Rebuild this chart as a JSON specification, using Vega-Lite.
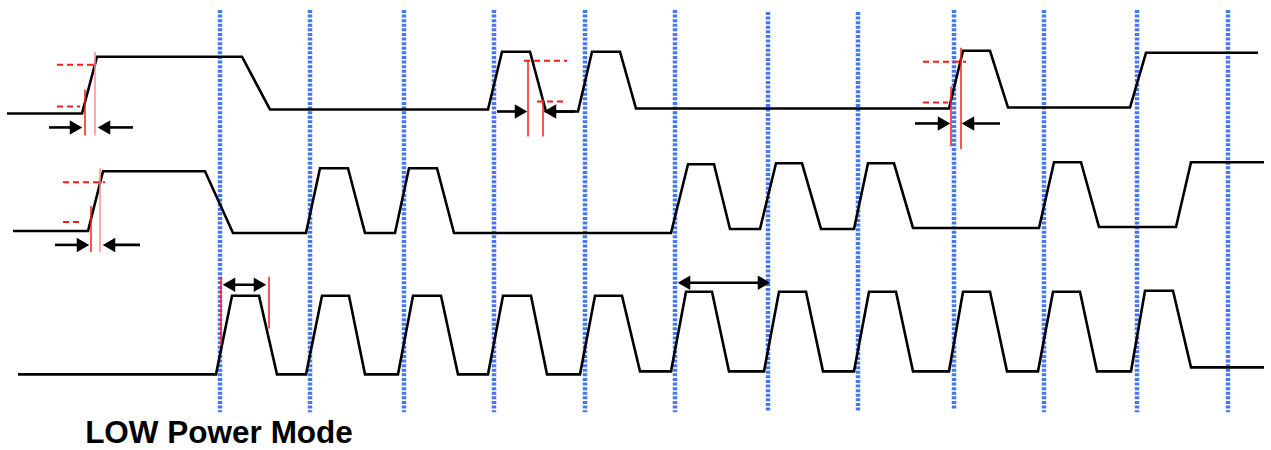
{
  "$schema": "https://vega.github.io/schema/vega-lite/v6.json",
  "width": 1271,
  "height": 450,
  "padding": 0,
  "autosize": {"type": "fit", "contains": "padding"},
  "background": "white",
  "config": {"view": {"stroke": null}},
  "datasets": {
    "grid": [
      {"x": 220, "y": 10, "y2": 414},
      {"x": 310, "y": 10, "y2": 414},
      {"x": 404, "y": 10, "y2": 414},
      {"x": 494, "y": 10, "y2": 414},
      {"x": 585, "y": 10, "y2": 414},
      {"x": 675, "y": 10, "y2": 414},
      {"x": 768, "y": 12, "y2": 414},
      {"x": 858, "y": 12, "y2": 414},
      {"x": 954, "y": 10, "y2": 412},
      {"x": 1044, "y": 10, "y2": 414},
      {"x": 1137, "y": 10, "y2": 414},
      {"x": 1228, "y": 10, "y2": 414}
    ],
    "wave": [
      {"s": "A", "x": 7, "y": 114}, {"s": "A", "x": 82, "y": 114}, {"s": "A", "x": 97, "y": 57}, {"s": "A", "x": 242, "y": 57},
      {"s": "A", "x": 270, "y": 110}, {"s": "A", "x": 488, "y": 110}, {"s": "A", "x": 502, "y": 52}, {"s": "A", "x": 530, "y": 52},
      {"s": "A", "x": 546, "y": 112}, {"s": "A", "x": 578, "y": 112}, {"s": "A", "x": 592, "y": 52}, {"s": "A", "x": 620, "y": 52},
      {"s": "A", "x": 636, "y": 109}, {"s": "A", "x": 949, "y": 109}, {"s": "A", "x": 963, "y": 51}, {"s": "A", "x": 990, "y": 51},
      {"s": "A", "x": 1008, "y": 108}, {"s": "A", "x": 1130, "y": 108}, {"s": "A", "x": 1146, "y": 53}, {"s": "A", "x": 1258, "y": 53},
      {"s": "B", "x": 13, "y": 232}, {"s": "B", "x": 88, "y": 232}, {"s": "B", "x": 103, "y": 172}, {"s": "B", "x": 205, "y": 172},
      {"s": "B", "x": 233, "y": 234}, {"s": "B", "x": 306, "y": 234}, {"s": "B", "x": 320, "y": 169}, {"s": "B", "x": 348, "y": 169},
      {"s": "B", "x": 365, "y": 234}, {"s": "B", "x": 395, "y": 234}, {"s": "B", "x": 409, "y": 169}, {"s": "B", "x": 437, "y": 169},
      {"s": "B", "x": 454, "y": 234}, {"s": "B", "x": 671, "y": 234}, {"s": "B", "x": 688, "y": 165}, {"s": "B", "x": 714, "y": 165},
      {"s": "B", "x": 730, "y": 230}, {"s": "B", "x": 760, "y": 230}, {"s": "B", "x": 776, "y": 164}, {"s": "B", "x": 802, "y": 164},
      {"s": "B", "x": 821, "y": 230}, {"s": "B", "x": 854, "y": 230}, {"s": "B", "x": 868, "y": 164}, {"s": "B", "x": 894, "y": 164},
      {"s": "B", "x": 913, "y": 229}, {"s": "B", "x": 1039, "y": 229}, {"s": "B", "x": 1054, "y": 163}, {"s": "B", "x": 1081, "y": 163},
      {"s": "B", "x": 1099, "y": 228}, {"s": "B", "x": 1176, "y": 228}, {"s": "B", "x": 1191, "y": 163}, {"s": "B", "x": 1264, "y": 163},
      {"s": "C", "x": 18, "y": 376}, {"s": "C", "x": 216, "y": 376}, {"s": "C", "x": 232, "y": 297}, {"s": "C", "x": 259, "y": 297},
      {"s": "C", "x": 277, "y": 376}, {"s": "C", "x": 306, "y": 376}, {"s": "C", "x": 322, "y": 297}, {"s": "C", "x": 349, "y": 297},
      {"s": "C", "x": 365, "y": 376}, {"s": "C", "x": 398, "y": 376}, {"s": "C", "x": 413, "y": 297}, {"s": "C", "x": 441, "y": 297},
      {"s": "C", "x": 458, "y": 376}, {"s": "C", "x": 488, "y": 376}, {"s": "C", "x": 503, "y": 297}, {"s": "C", "x": 531, "y": 297},
      {"s": "C", "x": 547, "y": 376}, {"s": "C", "x": 580, "y": 376}, {"s": "C", "x": 595, "y": 297}, {"s": "C", "x": 622, "y": 297},
      {"s": "C", "x": 640, "y": 373}, {"s": "C", "x": 671, "y": 373}, {"s": "C", "x": 686, "y": 293}, {"s": "C", "x": 712, "y": 293},
      {"s": "C", "x": 729, "y": 373}, {"s": "C", "x": 764, "y": 373}, {"s": "C", "x": 779, "y": 293}, {"s": "C", "x": 806, "y": 293},
      {"s": "C", "x": 823, "y": 373}, {"s": "C", "x": 854, "y": 373}, {"s": "C", "x": 869, "y": 293}, {"s": "C", "x": 896, "y": 293},
      {"s": "C", "x": 913, "y": 373}, {"s": "C", "x": 949, "y": 373}, {"s": "C", "x": 963, "y": 293}, {"s": "C", "x": 990, "y": 293},
      {"s": "C", "x": 1007, "y": 373}, {"s": "C", "x": 1038, "y": 373}, {"s": "C", "x": 1053, "y": 293}, {"s": "C", "x": 1080, "y": 293},
      {"s": "C", "x": 1097, "y": 373}, {"s": "C", "x": 1131, "y": 373}, {"s": "C", "x": 1145, "y": 292}, {"s": "C", "x": 1173, "y": 292},
      {"s": "C", "x": 1191, "y": 369}, {"s": "C", "x": 1264, "y": 369}
    ],
    "levels": [
      {"x": 57, "x2": 97, "y": 65}, {"x": 57, "x2": 80, "y": 107},
      {"x": 524, "x2": 567, "y": 61}, {"x": 537, "x2": 565, "y": 102},
      {"x": 923, "x2": 966, "y": 62}, {"x": 923, "x2": 948, "y": 103},
      {"x": 63, "x2": 105, "y": 183}, {"x": 63, "x2": 83, "y": 223}
    ],
    "marks": [
      {"x": 85, "y": 90, "y2": 136, "tone": "strong"}, {"x": 95, "y": 52, "y2": 136, "tone": "light"},
      {"x": 528, "y": 61, "y2": 137, "tone": "strong"}, {"x": 543, "y": 100, "y2": 137, "tone": "strong"},
      {"x": 951, "y": 87, "y2": 147, "tone": "strong"}, {"x": 961, "y": 48, "y2": 150, "tone": "strong"},
      {"x": 91, "y": 207, "y2": 253, "tone": "strong"}, {"x": 100, "y": 169, "y2": 253, "tone": "light"},
      {"x": 221, "y": 278, "y2": 347, "tone": "strong"}, {"x": 269, "y": 278, "y2": 330, "tone": "strong"}
    ],
    "shafts": [
      {"x": 49, "x2": 78, "y": 128}, {"x": 133, "x2": 102, "y": 128},
      {"x": 497, "x2": 523, "y": 112}, {"x": 575, "x2": 548, "y": 112},
      {"x": 915, "x2": 946, "y": 124}, {"x": 1000, "x2": 966, "y": 124},
      {"x": 55, "x2": 85, "y": 246}, {"x": 140, "x2": 107, "y": 246},
      {"x": 227, "x2": 262, "y": 286},
      {"x": 682, "x2": 766, "y": 284}
    ],
    "heads": [
      {"x": 76, "y": 128, "dir": "r"}, {"x": 104, "y": 128, "dir": "l"},
      {"x": 521, "y": 112, "dir": "r"}, {"x": 550, "y": 112, "dir": "l"},
      {"x": 944, "y": 124, "dir": "r"}, {"x": 968, "y": 124, "dir": "l"},
      {"x": 83, "y": 246, "dir": "r"}, {"x": 109, "y": 246, "dir": "l"},
      {"x": 229, "y": 286, "dir": "l"}, {"x": 260, "y": 286, "dir": "r"},
      {"x": 684, "y": 284, "dir": "l"}, {"x": 764, "y": 284, "dir": "r"}
    ],
    "labels": [
      {"x": 219, "y": 445, "label": "LOW Power Mode"}
    ]
  },
  "layer": [
    {
      "data": {"name": "grid"},
      "mark": {"type": "rule", "color": "#4477f5", "strokeWidth": 4.5, "strokeDash": [3, 1.6]},
      "encoding": {
        "x": {"field": "x", "type": "quantitative", "scale": {"domain": [0, 1271], "nice": false, "zero": false}, "axis": null},
        "y": {"field": "y", "type": "quantitative", "scale": {"domain": [450, 0], "nice": false, "zero": false}, "axis": null},
        "y2": {"field": "y2"}
      }
    },
    {
      "data": {"name": "wave"},
      "mark": {"type": "line", "color": "black", "strokeWidth": 2.6, "strokeJoin": "miter"},
      "encoding": {
        "x": {"field": "x", "type": "quantitative"},
        "y": {"field": "y", "type": "quantitative"},
        "detail": {"field": "s", "type": "nominal"}
      }
    },
    {
      "data": {"name": "levels"},
      "mark": {"type": "rule", "color": "#ff1a1a", "strokeWidth": 2, "strokeDash": [6, 4]},
      "encoding": {
        "x": {"field": "x", "type": "quantitative"},
        "x2": {"field": "x2"},
        "y": {"field": "y", "type": "quantitative"}
      }
    },
    {
      "data": {"name": "marks"},
      "mark": {"type": "rule", "strokeWidth": 1.5},
      "encoding": {
        "x": {"field": "x", "type": "quantitative"},
        "y": {"field": "y", "type": "quantitative"},
        "y2": {"field": "y2"},
        "color": {"field": "tone", "type": "nominal", "scale": {"domain": ["strong", "light"], "range": ["#ff1a1a", "#ff8c8c"]}, "legend": null}
      }
    },
    {
      "data": {"name": "shafts"},
      "mark": {"type": "rule", "color": "black", "strokeWidth": 2.6},
      "encoding": {
        "x": {"field": "x", "type": "quantitative"},
        "x2": {"field": "x2"},
        "y": {"field": "y", "type": "quantitative"}
      }
    },
    {
      "data": {"name": "heads"},
      "mark": {"type": "point", "filled": true, "color": "black", "opacity": 1, "size": 210},
      "encoding": {
        "x": {"field": "x", "type": "quantitative"},
        "y": {"field": "y", "type": "quantitative"},
        "shape": {"field": "dir", "type": "nominal", "scale": {"domain": ["r", "l"], "range": ["triangle-right", "triangle-left"]}, "legend": null}
      }
    },
    {
      "data": {"name": "labels"},
      "mark": {"type": "text", "font": "Liberation Sans", "fontWeight": "bold", "fontSize": 31.5, "color": "black", "align": "center", "baseline": "alphabetic"},
      "encoding": {
        "x": {"field": "x", "type": "quantitative"},
        "y": {"field": "y", "type": "quantitative"},
        "text": {"field": "label"}
      }
    }
  ]
}
